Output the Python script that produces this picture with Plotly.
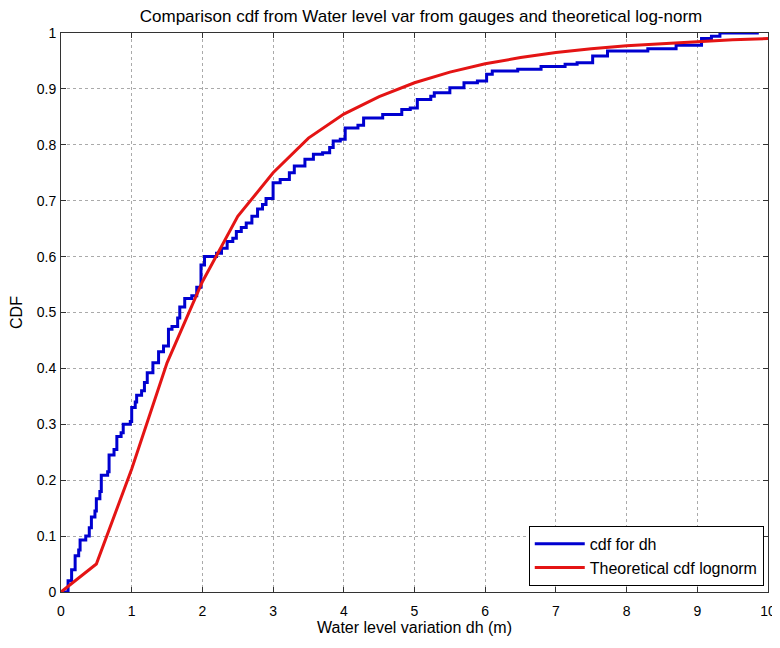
import plotly.graph_objects as go

ecdf_x = [0.03, 0.10, 0.15, 0.20, 0.25, 0.27, 0.35, 0.40, 0.43, 0.48, 0.50, 0.55, 0.57, 0.66, 0.68,
          0.75, 0.79, 0.85, 0.88, 0.98, 1.00, 1.05, 1.07, 1.14, 1.18, 1.22, 1.30, 1.38, 1.45, 1.52,
          1.57, 1.65, 1.68, 1.75, 1.85, 1.92, 1.98, 2.03, 2.20, 2.27, 2.35, 2.43, 2.48, 2.55, 2.62,
          2.70, 2.78, 2.85, 2.90, 3.00, 3.10, 3.23, 3.30, 3.45, 3.57, 3.70, 3.80, 3.85, 3.95, 4.02,
          4.20, 4.28, 4.55, 4.82, 4.94, 5.04, 5.23, 5.28, 5.50, 5.70, 5.89, 6.02, 6.10, 6.46, 6.79,
          7.13, 7.30, 7.52, 7.73, 8.30, 8.70, 9.06, 9.20, 9.32, 9.87]
ecdf_y = [0.000, 0.020, 0.040, 0.065, 0.075, 0.093, 0.100, 0.115, 0.134, 0.145, 0.167, 0.180, 0.209, 0.215, 0.245,
          0.255, 0.278, 0.285, 0.300, 0.305, 0.330, 0.340, 0.352, 0.360, 0.375, 0.392, 0.410, 0.430, 0.440, 0.470,
          0.475, 0.490, 0.510, 0.525, 0.530, 0.545, 0.585, 0.600, 0.606, 0.615, 0.627, 0.633, 0.645, 0.652, 0.660,
          0.672, 0.685, 0.693, 0.704, 0.732, 0.738, 0.750, 0.762, 0.774, 0.783, 0.786, 0.795, 0.807, 0.810, 0.830,
          0.835, 0.848, 0.854, 0.863, 0.866, 0.881, 0.887, 0.893, 0.902, 0.911, 0.914, 0.926, 0.932, 0.935, 0.940,
          0.944, 0.947, 0.959, 0.968, 0.972, 0.978, 0.990, 0.994, 1.000, 1.000]

# Theoretical lognormal CDF, read at 0.5 m spacing
theo_x = [0, 0.5, 1, 1.5, 2, 2.5, 3, 3.5, 4, 4.5, 5, 5.5, 6, 6.5, 7, 7.5, 8, 8.5, 9, 9.5, 10]
theo_y = [0, 0.05, 0.22, 0.41, 0.555, 0.672, 0.75, 0.812, 0.855, 0.886, 0.911, 0.93, 0.945, 0.956,
          0.965, 0.972, 0.977, 0.981, 0.985, 0.988, 0.99]

x_ticks = list(range(0, 11))
y_ticks = [i / 10 for i in range(0, 11)]
y_tick_labels = ["0", "0.1", "0.2", "0.3", "0.4", "0.5", "0.6", "0.7", "0.8", "0.9", "1"]

fig = go.Figure()
fig.add_trace(go.Scatter(x=ecdf_x, y=ecdf_y, mode="lines", line=dict(color="#0000d0", width=3, shape="hv"),
                         name="cdf for dh"))
fig.add_trace(go.Scatter(x=theo_x, y=theo_y, mode="lines", line=dict(color="#e41414", width=3),
                         name="Theoretical cdf lognorm"))

axis_common = dict(showline=True, linecolor="#333", linewidth=1, mirror="ticks", ticks="inside",
                   ticklen=5, tickcolor="#333", showgrid=True, gridcolor="#aaaaaa", griddash="dot",
                   gridwidth=1, zeroline=False, automargin=False,
                   tickfont=dict(size=14, color="black"))

fig.update_xaxes(range=[0, 10], tickvals=x_ticks, ticktext=[str(v) for v in x_ticks],
                 ticklabelstandoff=6,
                 title=dict(text="Water level variation dh (m)", font=dict(size=16, color="black"), standoff=4),
                 **axis_common)
fig.update_yaxes(range=[0, 1], tickvals=y_ticks, ticktext=y_tick_labels,
                 ticklabelstandoff=1,
                 title=dict(text="CDF", font=dict(size=16, color="black"), standoff=12),
                 **axis_common)

fig.update_layout(
    width=772, height=640,
    margin=dict(l=53, r=12, t=25, b=56),
    paper_bgcolor="white", plot_bgcolor="white",
    font=dict(family="Liberation Sans, Arial, sans-serif", color="black"),
    title=dict(text="Comparison cdf from Water level var from gauges and theoretical log-norm",
               x=0.535, xanchor="center", y=0.9875, yanchor="middle", font=dict(size=17, color="black")),
    legend=dict(x=0.994, y=0.011, xanchor="right", yanchor="bottom", bgcolor="white",
                bordercolor="black", borderwidth=1, font=dict(size=16, color="black"),
                tracegroupgap=0, itemwidth=50),
    showlegend=True,
)

fig.write_html("out.html")
